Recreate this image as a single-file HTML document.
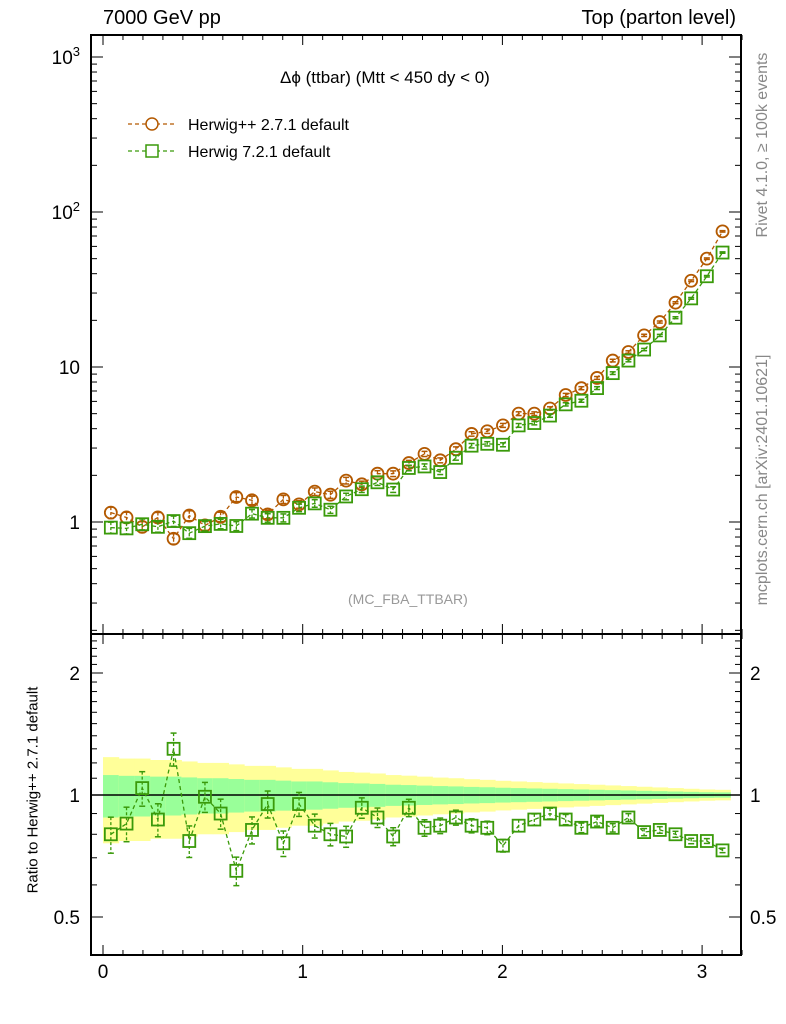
<!DOCTYPE html>
<html><head><meta charset="utf-8"><style>
body{margin:0;background:#fff;}
svg{display:block;font-family:"Liberation Sans",sans-serif;}
</style></head><body>
<svg id="chart" width="786" height="1024" viewBox="0 0 786 1024"></svg>
<script>
const herwigPP = [1.15,1.07,0.93,1.07,0.78,1.1,0.95,1.08,1.45,1.38,1.12,1.4,1.3,1.57,1.5,1.85,1.75,2.05,2.05,2.4,2.75,2.5,2.95,3.7,3.85,4.2,5.0,5.0,5.4,6.6,7.3,8.5,11,12.5,16,19.5,26,36,50,75];
const ratioH7 = [0.80,0.85,1.04,0.87,1.30,0.77,0.99,0.90,0.65,0.82,0.95,0.76,0.95,0.84,0.80,0.79,0.93,0.88,0.79,0.93,0.83,0.84,0.88,0.84,0.83,0.75,0.84,0.87,0.90,0.87,0.83,0.86,0.83,0.88,0.81,0.82,0.80,0.77,0.77,0.73];
const relErr = [0.12,0.115,0.115,0.11,0.11,0.105,0.1,0.1,0.095,0.09,0.09,0.085,0.08,0.08,0.075,0.07,0.068,0.065,0.06,0.058,0.055,0.052,0.05,0.047,0.045,0.042,0.04,0.038,0.036,0.034,0.032,0.03,0.028,0.026,0.024,0.022,0.02,0.018,0.016,0.015];
const xTickLabels = ["0","1","2","3"];
const nBins = herwigPP.length;
const xMax = Math.PI;

const NS="http://www.w3.org/2000/svg";
const svg=document.getElementById('chart');
function mk(tag,attrs,parent){const e=document.createElementNS(NS,tag);for(const k in attrs)e.setAttribute(k,attrs[k]);(parent||svg).appendChild(e);return e;}
const L=91,R=741,T=35,MB=634,RB=955;
function X(v){return 103+v*199.7;}
function Ym(v){return 522-Math.log10(v)*155;}
function Yr(v){return 795-Math.log2(v)*122;}
const herwig7 = herwigPP.map((v,i)=>v*ratioH7[i]);
const bw = xMax/nBins;

const gBand=mk('g',{});


for(let i=0;i<nBins;i++){
  const x0=X(i*bw),x1=X((i+1)*bw);
  const e=relErr[i];
  mk('rect',{x:x0,y:Yr(1+2*e),width:x1-x0+0.5,height:Yr(1-2*e)-Yr(1+2*e),fill:'#ffff99'},gBand);
  mk('rect',{x:x0,y:Yr(1+e),width:x1-x0+0.5,height:Yr(1-e)-Yr(1+e),fill:'#99ff99'},gBand);
}
mk('line',{x1:L,x2:R,y1:Yr(1),y2:Yr(1),stroke:'#000','stroke-width':1.5});

mk('rect',{x:L,y:T,width:R-L,height:MB-T,fill:'none',stroke:'#000','stroke-width':2});
mk('rect',{x:L,y:MB,width:R-L,height:RB-MB,fill:'none',stroke:'#000','stroke-width':2});

for(let k=0;k<=32;k++){
  const v=k/10, x=X(v), maj=(k%10===0), len=maj?10:5;
  [T,MB].forEach(y=>mk('line',{x1:x,x2:x,y1:y,y2:y+len,stroke:'#000','stroke-width':1}));
  [MB,RB].forEach(y=>mk('line',{x1:x,x2:x,y1:y,y2:y-len,stroke:'#000','stroke-width':1}));
}
xTickLabels.forEach((t,i)=>{const e=mk('text',{x:X(+t),y:978,'font-size':19,'text-anchor':'middle'});e.textContent=t;
});

for(let d=-1;d<=3;d++){for(let m=1;m<=9;m++){const v=m*Math.pow(10,d);const y=Ym(v);if(y<T||y>MB)continue;
  const len=m===1?12:6;
  mk('line',{x1:L,x2:L+len,y1:y,y2:y,stroke:'#000','stroke-width':1});
  mk('line',{x1:R,x2:R-len,y1:y,y2:y,stroke:'#000','stroke-width':1});}}
[["1",1],["10",10]].forEach(([t,v])=>{const e=mk('text',{x:80,y:Ym(v)+7,'font-size':19,'text-anchor':'end'});e.textContent=t;
});
[[2,100],[3,1000]].forEach(([p,v])=>{const e=mk('text',{x:80,y:Ym(v)+7,'font-size':19,'text-anchor':'end'});e.innerHTML='10<tspan dy="-8" font-size="13">'+p+'</tspan>';
});

for(let k=4;k<=25;k++){const v=k/10;const y=Yr(v);if(y<MB||y>RB)continue;const maj=(k===5||k===10||k===20);const len=maj?12:6;
  mk('line',{x1:L,x2:L+len,y1:y,y2:y,stroke:'#000','stroke-width':1});
  mk('line',{x1:R,x2:R-len,y1:y,y2:y,stroke:'#000','stroke-width':1});}
[["2",2],["1",1],["0.5",0.5]].forEach(([t,v])=>{
  const a=mk('text',{x:80,y:Yr(v)+7,'font-size':19,'text-anchor':'end'});a.textContent=t;
  
  const b=mk('text',{x:750,y:Yr(v)+7,'font-size':19,'text-anchor':'start'});b.textContent=t;
  });

function drawSeries(vals,Yf,color,shape,name,ef){
  const g=mk('g',{});
  
  
  const pts=vals.map((v,i)=>[X((i+0.5)*bw),Yf(v)]);
  mk('polyline',{points:pts.map(p=>p.join(',')).join(' '),fill:'none',stroke:color,'stroke-width':1.3,'stroke-dasharray':'4,3'},g);
  vals.forEach((v,i)=>{
    const [x,y]=pts[i];const e=relErr[i]*ef;
    const y1=Yf(v*(1+e)),y2=Yf(v*(1-e));
    mk('line',{x1:x,x2:x,y1:y1,y2:y2,stroke:color,'stroke-width':1.3,'stroke-dasharray':'3,2'},g);
    mk('line',{x1:x-3,x2:x+3,y1:y1,y2:y1,stroke:color,'stroke-width':1.5},g);
    mk('line',{x1:x-3,x2:x+3,y1:y2,y2:y2,stroke:color,'stroke-width':1.5},g);
    let m;
    if(shape==='c') m=mk('circle',{cx:x,cy:y,r:6,fill:'none',stroke:color,'stroke-width':1.8},g);
    else m=mk('rect',{x:x-6,y:y-6,width:12,height:12,fill:'none',stroke:color,'stroke-width':1.8},g);
    
    
  });
}
drawSeries(herwigPP,Ym,'#b35900','c','series-herwigpp',0.7);
drawSeries(herwig7,Ym,'#3a9a0a','s','series-herwig7',0.7);
drawSeries(ratioH7,Yr,'#3a9a0a','s','ratio-series-herwig7',0.85);

function leg(y,color,shape,label,name){
  const g=mk('g',{});
  mk('line',{x1:128,x2:176,y1:y,y2:y,stroke:color,'stroke-width':1.3,'stroke-dasharray':'4,3'},g);
  if(shape==='c')mk('circle',{cx:152,cy:y,r:6,fill:'#fff',stroke:color,'stroke-width':1.5},g);
  else mk('rect',{x:146,y:y-6,width:12,height:12,fill:'#fff',stroke:color,'stroke-width':1.5},g);
  const t=mk('text',{x:188,y:y+6,'font-size':16},g);t.textContent=label;
}
leg(124,'#b35900','c','Herwig++ 2.7.1 default','legend-entry-herwigpp');
leg(151,'#3a9a0a','s','Herwig 7.2.1 default','legend-entry-herwig7');
</script>
<div style="position:absolute;left:0;top:0;width:786px;height:1024px;pointer-events:none;font-family:'Liberation Sans',sans-serif;">
<div style="position:absolute;left:103px;top:7px;font-size:20px;">7000 GeV pp</div>
<div style="position:absolute;right:50px;top:7px;font-size:20px;">Top (parton level)</div>
<div style="position:absolute;left:280px;top:68px;font-size:17px;">Δϕ (ttbar) (Mtt &lt; 450 dy &lt; 0)</div>
<div style="position:absolute;left:348px;top:591px;font-size:14px;color:#999;">(MC_FBA_TTBAR)</div>
<div style="position:absolute;left:763px;top:145px;font-size:16px;color:#888;white-space:nowrap;transform:translate(-50%,-50%) rotate(-90deg);transform-origin:center;">Rivet 4.1.0, ≥ 100k events</div>
<div style="position:absolute;left:763px;top:480px;font-size:16px;color:#888;white-space:nowrap;transform:translate(-50%,-50%) rotate(-90deg);transform-origin:center;">mcplots.cern.ch [arXiv:2401.10621]</div>
<div style="position:absolute;left:33px;top:790px;font-size:15px;white-space:nowrap;transform:translate(-50%,-50%) rotate(-90deg);">Ratio to Herwig++ 2.7.1 default</div>
</div>
</body></html>
